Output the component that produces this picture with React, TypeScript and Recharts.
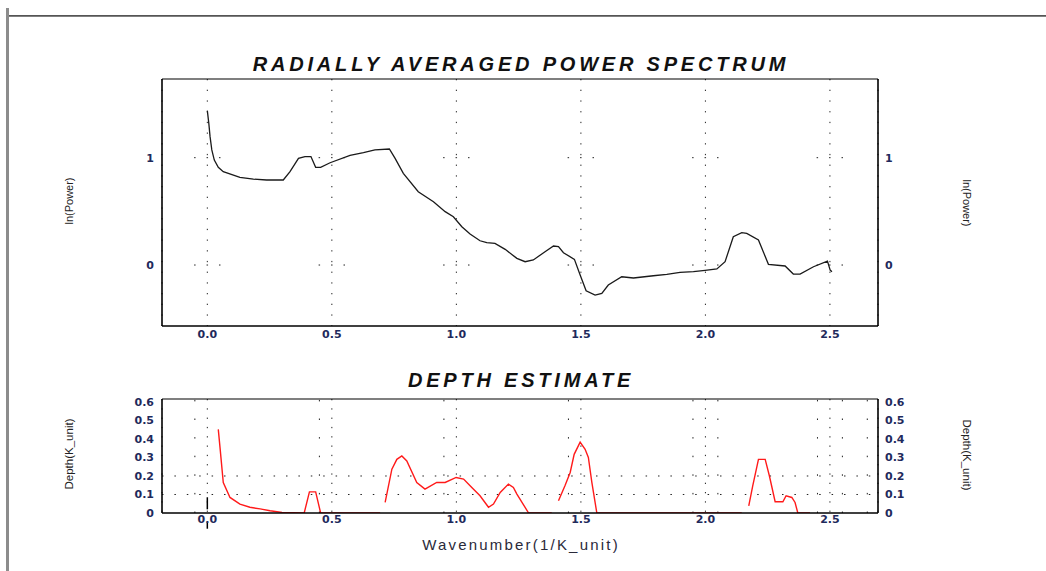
import { LineChart, Line, XAxis, YAxis, CartesianGrid, ReferenceLine } from "recharts";

// tick values
const xTicks = [0, 0.5, 1, 1.5, 2, 2.5];
const lnTicks = [0, 1];
const depthTicks = [0, 0.1, 0.2, 0.3, 0.4, 0.5, 0.6];
const depthSideGrid = [-0.05, 0.45, 0.95, 1.45, 1.95, 2.05, 2.45, 2.55, 2.65];

// radially averaged power spectrum
const spectrumK = [
  0, 0.006, 0.011, 0.018, 0.028, 0.044, 0.064, 0.131, 0.185, 0.238, 0.305, 0.332, 0.366, 0.392,
  0.416, 0.435, 0.455, 0.493, 0.573, 0.627, 0.673, 0.731, 0.754, 0.787, 0.847, 0.908, 0.955, 0.988,
  1.022, 1.055, 1.095, 1.122, 1.155, 1.196, 1.243, 1.276, 1.309, 1.356, 1.39, 1.41, 1.43, 1.474,
  1.497, 1.521, 1.557, 1.584, 1.61, 1.664, 1.711, 1.791, 1.845, 1.898, 1.952, 1.999, 2.046, 2.079,
  2.112, 2.146, 2.166, 2.213, 2.253, 2.32, 2.353, 2.38, 2.434, 2.49, 2.501, 2.508,
];
const spectrumLn = [
  1.438, 1.32, 1.196, 1.072, 0.978, 0.91, 0.87, 0.817, 0.8, 0.792, 0.792, 0.87, 0.994, 1.01, 1.01,
  0.91, 0.91, 0.953, 1.022, 1.047, 1.072, 1.081, 0.994, 0.854, 0.683, 0.59, 0.497, 0.45, 0.357,
  0.289, 0.226, 0.208, 0.202, 0.146, 0.062, 0.031, 0.047, 0.124, 0.177, 0.171, 0.115, 0.053, -0.093,
  -0.24, -0.28, -0.264, -0.186, -0.109, -0.121, -0.1, -0.087, -0.068, -0.062, -0.05, -0.037, 0.031,
  0.264, 0.301, 0.295, 0.233, 0.007, -0.009, -0.084, -0.084, -0.016, 0.037, -0.047, -0.062,
];

// depth estimate (null = break in the curve)
const depthK = [
  0.044, 0.051, 0.064, 0.091, 0.131, 0.171, 0.212, 0.252, 0.3, 0.389, 0.41, 0.435, 0.455, 0.694,
  0.704, 0.714, 0.741, 0.761, 0.781, 0.801, 0.841, 0.874, 0.921, 0.955, 0.999, 1.029, 1.062, 1.095,
  1.129, 1.149, 1.176, 1.209, 1.229, 1.243, 1.29, 1.383, 1.396, 1.41, 1.436, 1.457, 1.473, 1.497,
  1.517, 1.53, 1.544, 1.564, 2.146, 2.16, 2.174, 2.19, 2.213, 2.24, 2.257, 2.28, 2.311, 2.324,
  2.347, 2.36, 2.371, 2.42,
];
const depthVal = [
  0.452, 0.353, 0.165, 0.084, 0.048, 0.031, 0.022, 0.012, 0.003, 0, 0.114, 0.114, 0, 0, null,
  0.058, 0.237, 0.29, 0.308, 0.281, 0.165, 0.129, 0.165, 0.165, 0.192, 0.183, 0.138, 0.093, 0.031,
  0.048, 0.111, 0.156, 0.138, 0.102, 0, 0, null, 0.066, 0.147, 0.219, 0.317, 0.383, 0.344, 0.3,
  0.165, 0, 0, null, 0.039, 0.147, 0.29, 0.29, 0.2, 0.061, 0.061, 0.093, 0.084, 0.057, 0, 0,
];

const xDomain = [-0.182, 2.693];
const lnDomain = [-0.568, 1.733];
const depthDomain = [0, 0.616];

const tickFont = { fontFamily: "DejaVu Sans", fontWeight: 700, fontSize: 11, fill: "#1f2a5c" };
const titleStyle = {
  fontFamily: "Liberation Sans, Arial, sans-serif",
  fontWeight: 700,
  fontStyle: "italic",
  fontSize: 20,
  letterSpacing: 3.8,
  fill: "#111",
};
const labelStyle = { fontFamily: "Liberation Sans, Arial, sans-serif", fontSize: 11, fill: "#222" };

const fmtX = (v: number) => v.toFixed(1);
const fmtDepth = (v: number) => (v === 0 ? "0" : v.toFixed(1));

export default function App() {
  const spectrum = spectrumK.map((k, i) => ({ k, ln: spectrumLn[i] }));
  const depth = depthK.map((k, i) => ({ k, d: depthVal[i] }));

  return (
    <div style={{ position: "absolute", left: 0, top: 0, width: 1046, height: 571, background: "#fff", overflow: "hidden" }}>
      <svg width={1046} height={571} style={{ position: "absolute", left: 0, top: 0 }}>
        <line x1={7.5} y1={8} x2={7.5} y2={571} stroke="#8c8c8c" strokeWidth={3} />
        <line x1={9} y1={15.8} x2={1046} y2={15.8} stroke="#555" strokeWidth={1.8} />
        <text x={521} y={71} textAnchor="middle" style={titleStyle}>
          RADIALLY AVERAGED POWER SPECTRUM
        </text>
        <text x={521} y={387} textAnchor="middle" style={titleStyle}>
          DEPTH ESTIMATE
        </text>
        <text transform="translate(73 201) rotate(-90)" textAnchor="middle" style={labelStyle}>
          ln(Power)
        </text>
        <text transform="translate(963 203) rotate(90)" textAnchor="middle" style={labelStyle}>
          ln(Power)
        </text>
        <text transform="translate(73 454) rotate(-90)" textAnchor="middle" style={{ ...labelStyle, fontSize: 11.5 }}>
          Depth(K_unit)
        </text>
        <text transform="translate(963 455) rotate(90)" textAnchor="middle" style={{ ...labelStyle, fontSize: 11.5 }}>
          Depth(K_unit)
        </text>
        <text
          x={521}
          y={550}
          textAnchor="middle"
          style={{ fontFamily: "Liberation Sans, Arial, sans-serif", fontSize: 15, letterSpacing: 2.2, fill: "#2a2a3a" }}
        >
          Wavenumber(1/K_unit)
        </text>
      </svg>

      <div style={{ position: "absolute", left: 0, top: 0 }}>
        <LineChart width={1046} height={350} data={spectrum} margin={{ top: 79, right: 138, bottom: 4, left: 132 }}>
          <CartesianGrid horizontal={false} stroke="#222" strokeDasharray="1.3 9.4" />
          {lnTicks.map((t) => (
            <ReferenceLine
              key={t}
              y={t}
              stroke="#222"
              strokeDasharray="1.5 10.95 1.5 10.95 1.5 98.1"
              strokeDashoffset={92.4}
            />
          ))}
          <ReferenceLine y={lnDomain[1]} stroke="#000" strokeWidth={1.2} />
          <XAxis
            dataKey="k"
            type="number"
            domain={xDomain}
            ticks={xTicks}
            tickFormatter={fmtX}
            allowDataOverflow
            height={20}
            tickLine={false}
            tickSize={2}
            tickMargin={2}
            axisLine={{ stroke: "#000", strokeWidth: 1.6 }}
            tick={tickFont}
          />
          <YAxis
            type="number"
            domain={lnDomain}
            ticks={lnTicks}
            allowDataOverflow
            width={30}
            tickLine={false}
            tickSize={6}
            tickMargin={2}
            axisLine={{ stroke: "#000", strokeWidth: 1.6 }}
            tick={tickFont}
          />
          <YAxis
            yAxisId="right"
            orientation="right"
            type="number"
            domain={lnDomain}
            ticks={lnTicks}
            allowDataOverflow
            width={30}
            tickLine={false}
            tickSize={5}
            tickMargin={2}
            axisLine={{ stroke: "#000", strokeWidth: 1.6 }}
            tick={{ ...tickFont, textAnchor: "start" }}
          />
          <Line type="linear" dataKey="ln" stroke="#1a1a1a" strokeWidth={1.3} dot={false} isAnimationActive={false} />
        </LineChart>
      </div>

      <div style={{ position: "absolute", left: 0, top: 380 }}>
        <LineChart width={1046} height={160} data={depth} margin={{ top: 19, right: 138, bottom: 7, left: 132 }}>
          <CartesianGrid horizontal={false} stroke="#222" strokeDasharray="1.3 8" />
          {depthSideGrid.map((x) => (
            <ReferenceLine key={x} x={x} stroke="#222" strokeDasharray="1.5 17.1" />
          ))}
          {[0.1, 0.2].map((t) => (
            <ReferenceLine key={t} y={t} stroke="#222" strokeDasharray="1.5 10.9" />
          ))}
          <ReferenceLine y={depthDomain[1]} stroke="#000" strokeWidth={1.2} />
          <ReferenceLine segment={[{ x: 0, y: 0.02 }, { x: 0, y: 0.085 }]} stroke="#000" strokeWidth={1.5} />
          <ReferenceLine segment={[{ x: 0, y: -0.05 }, { x: 0, y: -0.085 }]} stroke="#000" strokeWidth={1.5} ifOverflow="visible" />
          <XAxis
            dataKey="k"
            type="number"
            domain={xDomain}
            ticks={xTicks}
            tickFormatter={fmtX}
            allowDataOverflow
            height={20}
            tickLine={false}
            tickSize={1}
            tickMargin={1}
            axisLine={{ stroke: "#000", strokeWidth: 1.6 }}
            tick={tickFont}
          />
          <YAxis
            type="number"
            domain={depthDomain}
            ticks={depthTicks}
            tickFormatter={fmtDepth}
            allowDataOverflow
            width={30}
            tickLine={false}
            tickSize={6}
            tickMargin={2}
            axisLine={{ stroke: "#000", strokeWidth: 1.6 }}
            tick={tickFont}
          />
          <YAxis
            yAxisId="right"
            orientation="right"
            type="number"
            domain={depthDomain}
            ticks={depthTicks}
            tickFormatter={fmtDepth}
            allowDataOverflow
            width={30}
            tickLine={false}
            tickSize={5}
            tickMargin={2}
            axisLine={{ stroke: "#000", strokeWidth: 1.6 }}
            tick={{ ...tickFont, textAnchor: "start" }}
          />
          <Line type="linear" dataKey="d" stroke="#ff1a1a" strokeWidth={1.4} dot={false} connectNulls={false} isAnimationActive={false} />
        </LineChart>
      </div>
    </div>
  );
}
